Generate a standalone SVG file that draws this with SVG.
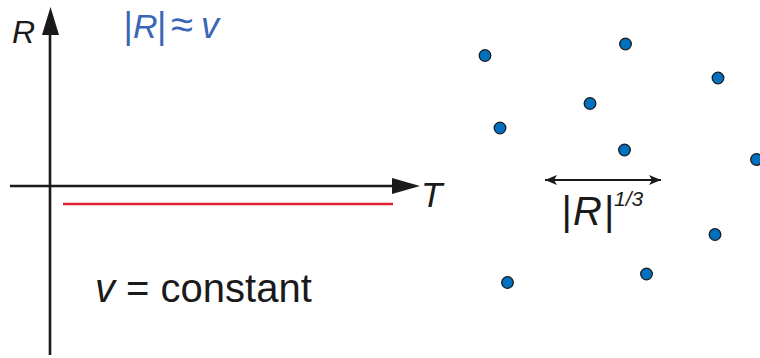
<svg xmlns="http://www.w3.org/2000/svg" width="760" height="358" viewBox="0 0 760 358">
<style>
.dot{fill:#0070c0;stroke:#1a1a1a;stroke-width:1.3}
.ax{stroke:#1a1a1a;stroke-width:2.6;fill:none}
.t{font-family:"Liberation Sans",Arial,sans-serif;fill:#1a1a1a}
.blue{fill:#3a66b5}
</style>
<defs>
<marker id="ah" markerWidth="12" markerHeight="10" refX="12" refY="5" orient="auto-start-reverse" markerUnits="userSpaceOnUse" viewBox="0 0 12 10">
<path d="M0,0 L12,5 L0,10 L3,5 Z" fill="#1a1a1a"/>
</marker>
</defs>
<g id="axes">
<line class="ax" x1="50" y1="355" x2="50" y2="33"/>
<path d="M50.5,7 L59,35 L42,35 Z" fill="#1a1a1a"/>
<line class="ax" x1="10" y1="186" x2="394" y2="186"/>
<path d="M420,186 L392,178 L392,194 Z" fill="#1a1a1a"/>
<line x1="63" y1="204" x2="393" y2="204" stroke="#e0202e" stroke-width="2.6"/>
</g>
<g id="labels">
<text class="t" x="12" y="43" font-size="32" font-style="italic">R</text>
<text class="t" x="421" y="207" font-size="35" font-style="italic">T</text>
<text class="t blue" y="38" font-size="36"><tspan x="123.5">|</tspan><tspan x="133" font-size="34" font-style="italic">R</tspan><tspan x="157">|</tspan><tspan x="171" font-size="40">≈</tspan><tspan x="201" font-style="italic">v</tspan></text>
<text class="t" x="95" y="302" font-size="40"><tspan font-style="italic">v</tspan> = constant</text>
</g>
<g id="connectors">
<line x1="545" y1="180" x2="661" y2="180" stroke="#1a1a1a" stroke-width="1.8" marker-start="url(#ah)" marker-end="url(#ah)"/>
</g>
<g id="scale-label">
<text class="t" y="225" font-size="40"><tspan x="561.5">|</tspan><tspan x="573" font-style="italic">R</tspan><tspan x="604">|</tspan><tspan x="614" y="206" font-size="21" font-style="italic">1/3</tspan></text>
</g>
<g id="dots">
<circle class="dot" cx="485" cy="55.5" r="5.8"/>
<circle class="dot" cx="625.5" cy="44" r="5.8"/>
<circle class="dot" cx="718" cy="78" r="5.8"/>
<circle class="dot" cx="590" cy="103.5" r="5.8"/>
<circle class="dot" cx="500" cy="128" r="5.8"/>
<circle class="dot" cx="624.5" cy="150" r="5.8"/>
<circle class="dot" cx="756.5" cy="159.5" r="5.8"/>
<circle class="dot" cx="715" cy="234.5" r="5.8"/>
<circle class="dot" cx="646.5" cy="274" r="5.8"/>
<circle class="dot" cx="507.5" cy="282.5" r="5.8"/>
</g>
</svg>
